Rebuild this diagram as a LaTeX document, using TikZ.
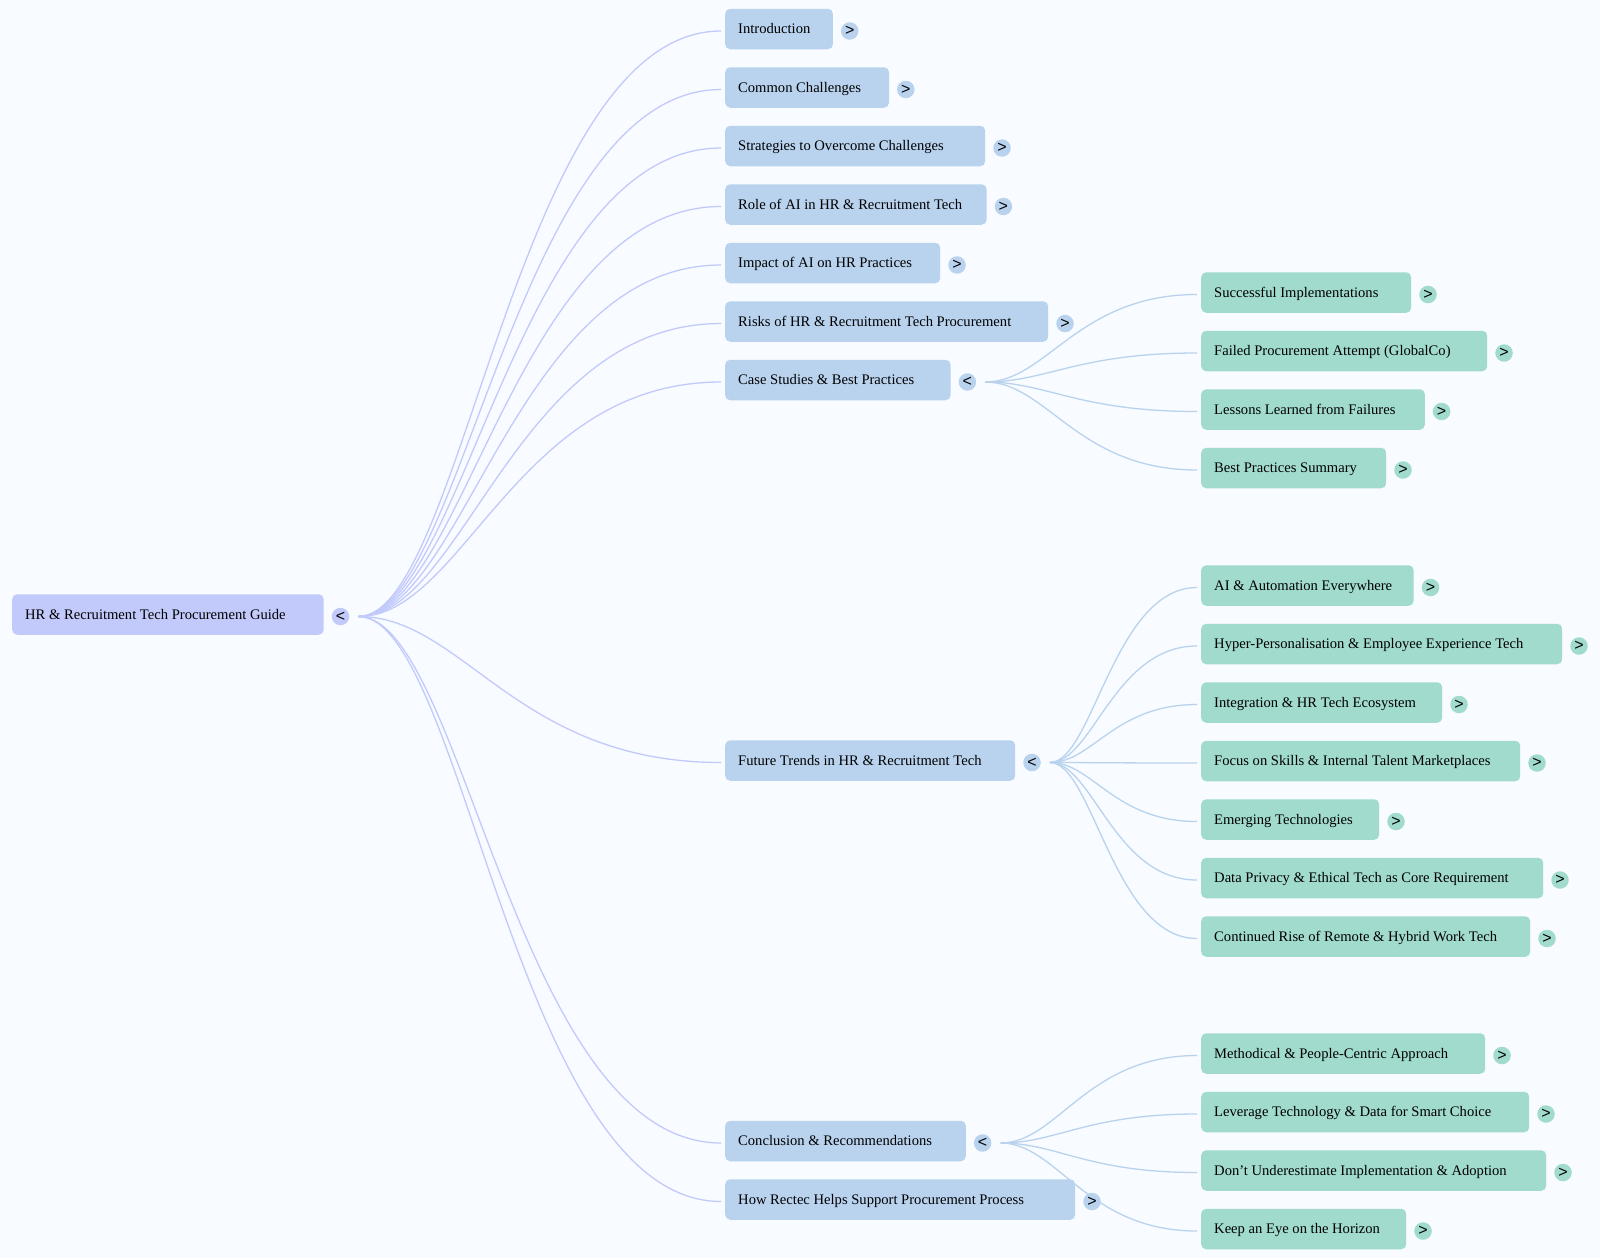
\documentclass[tikz,border=0pt]{standalone}
\usepackage{fontspec}
\setmainfont{Liberation Serif}
\newfontfamily\togglefont{Liberation Sans}
\usetikzlibrary{calc,backgrounds}
\definecolor{pagebg}{HTML}{F8FBFF}
\definecolor{rootfill}{HTML}{C2CAFC}
\definecolor{midfill}{HTML}{B9D3EF}
\definecolor{leaffill}{HTML}{A0DBCD}
\tikzset{
  mapbox/.style={rounded corners=5pt,anchor=west,inner xsep=13pt,inner ysep=0pt,minimum height=40.5pt,
    text height=11.6pt,text depth=2.4pt,align=left,font=\fontsize{14.6}{16}\selectfont,text=black},
  toggle/.style={circle,inner sep=0pt,minimum size=17.5pt,font=\togglefont\fontsize{16}{16}\selectfont,text=black},
  rootlink/.style={draw=rootfill,line width=1.3pt},
  midlink/.style={draw=midfill,line width=1.3pt}
}
\newcommand\mapitem[7]{% name, left, right, centre y, fill, toggle char, text
  \node[mapbox,fill=#5,minimum width=#3pt-#2pt,text width=#3pt-#2pt-26pt] (#1) at (#2,#4) {\spaceskip=.25em\relax #7};
  \node[toggle,fill=#5] (#1t) at (#3+17,#4+2) {#6};
}
\newcommand\hlink[3]{% style, from toggle, to box
  \coordinate (lnA) at ($(#2.east)+(9pt,0)$);
  \coordinate (lnB) at ($(#3.west)+(-4pt,-2pt)$);
  \coordinate (lnP) at ($(lnA)!.29!(lnB)$);
  \coordinate (lnQ) at ($(lnA)!.435!(lnB)$);
  \draw[#1] (lnA) .. controls (lnP |- lnA) and (lnQ |- lnB) .. (lnB);
}
\begin{document}
\begin{tikzpicture}[x=1pt,y=-1pt]
\useasboundingbox (0,0) rectangle (1600,1258);
\mapitem{root}{12}{323.5}{614.5}{rootfill}{<}{HR \& Recruitment Tech Procurement Guide}
\mapitem{a}{725}{832.7}{29}{midfill}{>}{Introduction}
\mapitem{b}{725}{888.8}{87.5}{midfill}{>}{Common Challenges}
\mapitem{c}{725}{985}{146}{midfill}{>}{Strategies to Overcome Challenges}
\mapitem{d}{725}{986.4}{204.5}{midfill}{>}{Role of AI in HR \& Recruitment Tech}
\mapitem{e}{725}{940}{263}{midfill}{>}{Impact of AI on HR Practices}
\mapitem{f}{725}{1048}{321.5}{midfill}{>}{Risks of HR \& Recruitment Tech Procurement}
\mapitem{g}{725}{950.4}{380}{midfill}{<}{Case Studies \& Best Practices}
\mapitem{h}{725}{1015}{760.5}{midfill}{<}{Future Trends in HR \& Recruitment Tech}
\mapitem{i}{725}{965.6}{1141}{midfill}{<}{Conclusion \& Recommendations}
\mapitem{j}{725}{1075}{1199.5}{midfill}{>}{How Rectec Helps Support Procurement Process}
\mapitem{g1}{1201}{1411}{292.5}{leaffill}{>}{Successful Implementations}
\mapitem{g2}{1201}{1487}{351}{leaffill}{>}{Failed Procurement Attempt (GlobalCo)}
\mapitem{g3}{1201}{1424.6}{409.5}{leaffill}{>}{Lessons Learned from Failures}
\mapitem{g4}{1201}{1386}{468}{leaffill}{>}{Best Practices Summary}
\mapitem{h1}{1201}{1413.5}{585.5}{leaffill}{>}{AI \& Automation Everywhere}
\mapitem{h2}{1201}{1562}{644}{leaffill}{>}{Hyper-Personalisation \& Employee Experience Tech}
\mapitem{h3}{1201}{1442}{702.5}{leaffill}{>}{Integration \& HR Tech Ecosystem}
\mapitem{h4}{1201}{1520}{761}{leaffill}{>}{Focus on Skills \& Internal Talent Marketplaces}
\mapitem{h5}{1201}{1379}{819.5}{leaffill}{>}{Emerging Technologies}
\mapitem{h6}{1201}{1543}{878}{leaffill}{>}{Data Privacy \& Ethical Tech as Core Requirement}
\mapitem{h7}{1201}{1530}{936.5}{leaffill}{>}{Continued Rise of Remote \& Hybrid Work Tech}
\mapitem{i1}{1201}{1485}{1053.5}{leaffill}{>}{Methodical \& People-Centric Approach}
\mapitem{i2}{1201}{1529}{1112}{leaffill}{>}{Leverage Technology \& Data for Smart Choice}
\mapitem{i3}{1201}{1546}{1170.5}{leaffill}{>}{Don’t Underestimate Implementation \& Adoption}
\mapitem{i4}{1201}{1406}{1229}{leaffill}{>}{Keep an Eye on the Horizon}
\begin{scope}[on background layer]
\fill[pagebg] (0,0) rectangle (1600,1258);
\foreach \k in {a,b,c,d,e,f,g,h,i,j}{\hlink{rootlink}{roott}{\k}}
\foreach \k in {g1,g2,g3,g4}{\hlink{midlink}{gt}{\k}}
\foreach \k in {h1,h2,h3,h4,h5,h6,h7}{\hlink{midlink}{ht}{\k}}
\foreach \k in {i1,i2,i3,i4}{\hlink{midlink}{it}{\k}}
\end{scope}
\end{tikzpicture}
\end{document}
